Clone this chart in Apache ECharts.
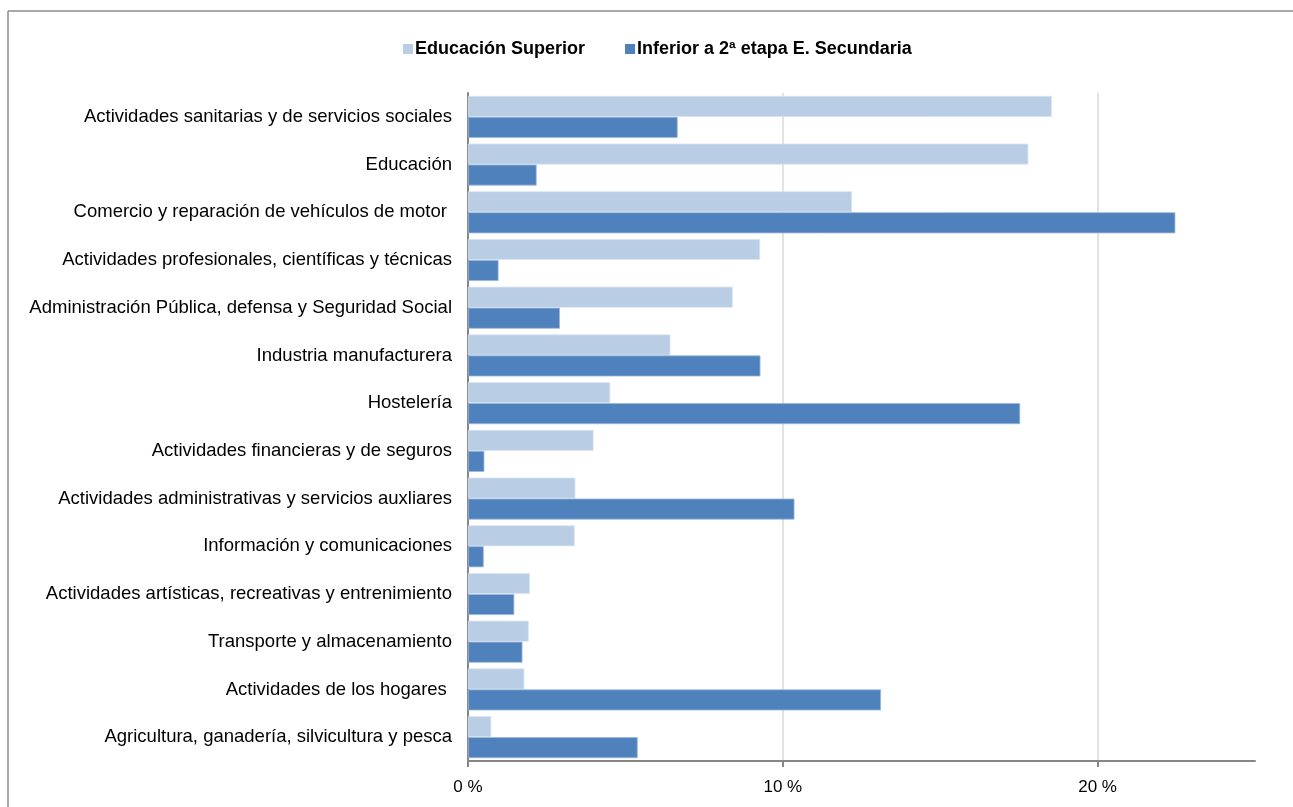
<!DOCTYPE html>
<html>
<head>
<meta charset="utf-8">
<script src="https://cdn.jsdelivr.net/npm/echarts@6/dist/echarts.min.js"></script>
<style>
html,body{margin:0;padding:0;background:#fff;}
#chart{width:1293px;height:807px;}
</style>
</head>
<body>
<div id="chart"></div>
<script>
const categories = [
  "Actividades sanitarias y de servicios sociales",
  "Educación",
  "Comercio y reparación de vehículos de motor ",
  "Actividades profesionales, científicas y técnicas",
  "Administración Pública, defensa y Seguridad Social",
  "Industria manufacturera",
  "Hostelería",
  "Actividades financieras y de seguros",
  "Actividades administrativas y servicios auxliares",
  "Información y comunicaciones",
  "Actividades artísticas, recreativas y entrenimiento",
  "Transporte y almacenamiento",
  "Actividades de los hogares ",
  "Agricultura, ganadería, silvicultura y pesca"
];
const seriesNames = ["Educación Superior", "Inferior a 2ª etapa E. Secundaria"];
const educacionSuperior = [18.55, 17.8, 12.2, 9.28, 8.41, 6.43, 4.52, 3.99, 3.41, 3.39, 1.97, 1.93, 1.79, 0.74];
const inferiorSecundaria = [6.66, 2.18, 22.47, 0.97, 2.92, 9.29, 17.54, 0.52, 10.37, 0.50, 1.47, 1.73, 13.12, 5.39];
const xTickValues = [0, 10, 20];
const xMin = 0, xMax = 25, xInterval = 10;

const chart = echarts.init(document.getElementById('chart'));
chart.setOption({
  animation: false,
  backgroundColor: '#ffffff',
  textStyle: { fontFamily: 'Liberation Sans, Arial, sans-serif' },
  graphic: [
    { type: 'line', shape: { x1: 8, y1: 11, x2: 1293, y2: 11 }, style: { stroke: '#8c8c8c', lineWidth: 1.5 } },
    { type: 'line', shape: { x1: 8, y1: 11, x2: 8, y2: 807 }, style: { stroke: '#8c8c8c', lineWidth: 1.5 } }
  ],
  legend: {
    top: 35,
    left: 398,
    itemWidth: 10,
    itemHeight: 10,
    itemGap: 40,
    icon: 'rect',
    itemStyle: { borderWidth: 0 },
    textStyle: { fontSize: 18, fontWeight: 'bold', color: '#000', fontFamily: 'Liberation Sans, Arial, sans-serif', padding: [0, 0, 0, -3] },
    data: seriesNames
  },
  grid: { left: 468, right: 38, top: 93, bottom: 46, containLabel: false },
  xAxis: {
    type: 'value',
    min: xMin,
    max: xMax,
    interval: xInterval,
    axisLine: { show: true, lineStyle: { color: '#868686', width: 2 } },
    axisTick: { show: true, length: 6, customValues: xTickValues, lineStyle: { color: '#868686', width: 2 } },
    axisLabel: { formatter: '{value} %', customValues: xTickValues, fontSize: 17, color: '#000', margin: 18 },
    splitLine: { show: true, lineStyle: { color: ['#d9d9d9', '#d9d9d9', '#d9d9d9', 'rgba(0,0,0,0)'], width: 1.5 } }
  },
  yAxis: {
    type: 'category',
    inverse: true,
    data: categories,
    axisLine: { show: true, lineStyle: { color: '#868686', width: 2 } },
    axisTick: { show: false },
    axisLabel: { fontSize: 18.5, color: '#000', margin: 16 }
  },
  series: [
    {
      name: seriesNames[0], type: 'bar', data: educacionSuperior,
      barWidth: 21, barGap: '0%',
      itemStyle: { color: '#B9CDE5', borderColor: '#dbe5f1', borderWidth: 0.8 }
    },
    {
      name: seriesNames[1], type: 'bar', data: inferiorSecundaria,
      barWidth: 21, barGap: '0%',
      itemStyle: { color: '#4F81BD', borderColor: '#9bb7d9', borderWidth: 0.8 }
    }
  ]
});
</script>
</body>
</html>
